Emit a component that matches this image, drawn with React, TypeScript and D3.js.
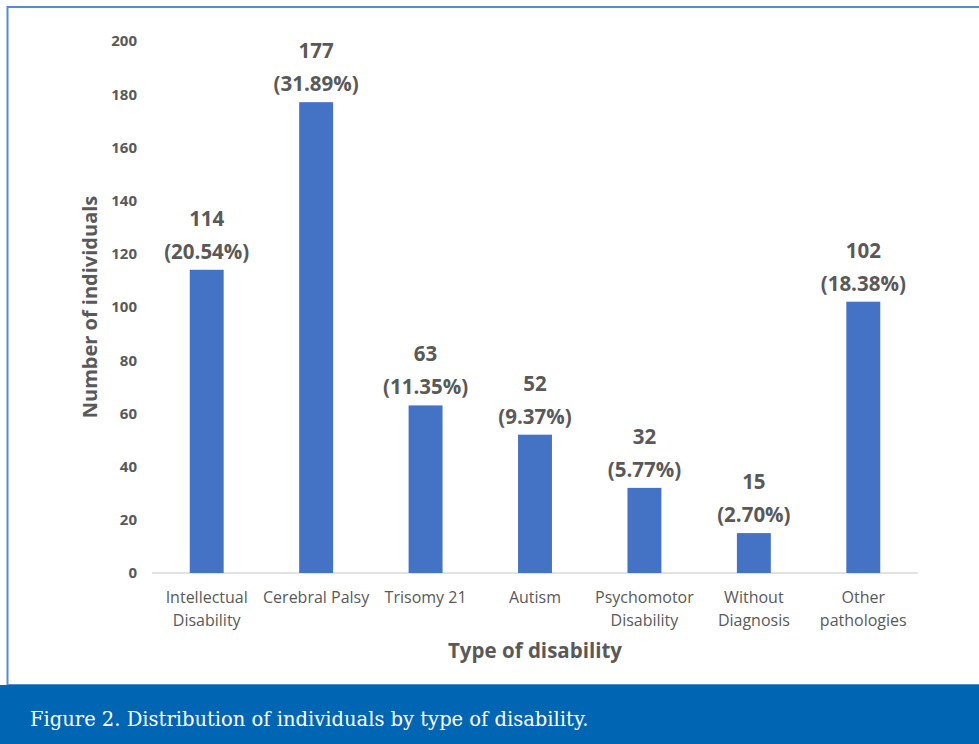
import React, { useEffect, useRef } from 'react';
import * as d3 from 'd3';

const categories = [
  ['Intellectual', 'Disability'],
  ['Cerebral Palsy'],
  ['Trisomy 21'],
  ['Autism'],
  ['Psychomotor', 'Disability'],
  ['Without', 'Diagnosis'],
  ['Other', 'pathologies'],
];
const counts = [114, 177, 63, 52, 32, 15, 102];
const percents = ['20.54%', '31.89%', '11.35%', '9.37%', '5.77%', '2.70%', '18.38%'];
const yTicks = [0, 20, 40, 60, 80, 100, 120, 140, 160, 180, 200];

const W = 979;
const H = 744;
const FONT = '"Open Sans", "Liberation Sans", sans-serif';
const GREY = '#595959';

export default function App() {
  const ref = useRef<SVGSVGElement>(null);

  useEffect(() => {
    const svg = d3.select(ref.current);
    svg.selectAll('*').remove();

    // frame + caption band
    svg.append('rect')
      .attr('x', 7.5).attr('y', 7)
      .attr('width', W).attr('height', 678)
      .attr('fill', '#fff')
      .attr('stroke', '#4f8fd0')
      .attr('stroke-width', 2);

    svg.append('rect')
      .attr('x', 0).attr('y', 685)
      .attr('width', W).attr('height', H - 685)
      .attr('fill', '#0066b3');

    svg.append('text')
      .text('Figure 2. Distribution of individuals by type of disability.')
      .attr('x', 30).attr('y', 726)
      .attr('fill', '#fff')
      .attr('font-family', '"DejaVu Serif", serif')
      .attr('font-size', '19.5px');

    //SCALES
    const labels = categories.map(c => c.join(' '));
    const x = d3.scaleBand()
      .domain(labels)
      .range([152, 918])
      .paddingInner(0.69)
      .paddingOuter(0.345);

    const y = d3.scaleLinear()
      .domain([0, 200])
      .range([573, 41]);

    //AXIS
    const yAxis = svg.append('g')
      .attr('transform', 'translate(137,0)')
      .call(d3.axisLeft(y).tickValues(yTicks).tickSize(0).tickPadding(0));
    yAxis.select('.domain').remove();
    yAxis.selectAll('text')
      .attr('fill', GREY)
      .attr('font-family', FONT)
      .attr('font-size', '15px')
      .attr('font-weight', 'bold');

    svg.append('line')
      .attr('x1', 152).attr('x2', 918)
      .attr('y1', y(0)).attr('y2', y(0))
      .attr('stroke', '#d9d9d9')
      .attr('stroke-width', 1.5);

    // bars
    svg.selectAll('rect.bar')
      .data(counts)
      .enter()
      .append('rect')
      .attr('class', 'bar')
      .attr('x', (d, i) => x(labels[i])!)
      .attr('y', d => y(d))
      .attr('width', x.bandwidth())
      .attr('height', d => y(0) - y(d))
      .attr('fill', '#4472c4');

    // data labels
    const lab = svg.selectAll('g.lab')
      .data(counts)
      .enter()
      .append('g')
      .attr('class', 'lab')
      .attr('font-family', FONT)
      .attr('font-size', '20.5px')
      .attr('font-weight', 'bold')
      .attr('fill', GREY)
      .attr('text-anchor', 'middle');
    lab.append('text')
      .attr('x', (d, i) => x(labels[i])! + x.bandwidth() / 2)
      .attr('y', d => y(d) - 44)
      .text(d => d);
    lab.append('text')
      .attr('x', (d, i) => x(labels[i])! + x.bandwidth() / 2)
      .attr('y', d => y(d) - 11)
      .text((d, i) => `(${percents[i]})`);

    // category labels
    categories.forEach((lines, i) => {
      const t = svg.append('text')
        .attr('x', x(labels[i])! + x.bandwidth() / 2)
        .attr('text-anchor', 'middle')
        .attr('font-family', FONT)
        .attr('font-size', '16px')
        .attr('font-weight', 500)
        .attr('fill', GREY);
      lines.forEach((l, j) => {
        t.append('tspan')
          .attr('x', x(labels[i])! + x.bandwidth() / 2)
          .attr('y', 603 + j * 23)
          .text(l);
      });
    });

    svg.append('text')
      .text('Type of disability')
      .attr('x', 535).attr('y', 658)
      .attr('text-anchor', 'middle')
      .attr('font-family', FONT)
      .attr('font-size', '20.5px')
      .attr('font-weight', 'bold')
      .attr('fill', GREY);

    svg.append('text')
      .text('Number of individuals')
      .attr('transform', 'translate(97,307) rotate(-90)')
      .attr('text-anchor', 'middle')
      .attr('font-family', FONT)
      .attr('font-size', '20px')
      .attr('font-weight', 'bold')
      .attr('fill', GREY);
  }, []);

  return (
    <svg ref={ref} width={W} height={H}
      style={{ position: 'absolute', left: 0, top: 0, background: '#fff' }} />
  );
}
